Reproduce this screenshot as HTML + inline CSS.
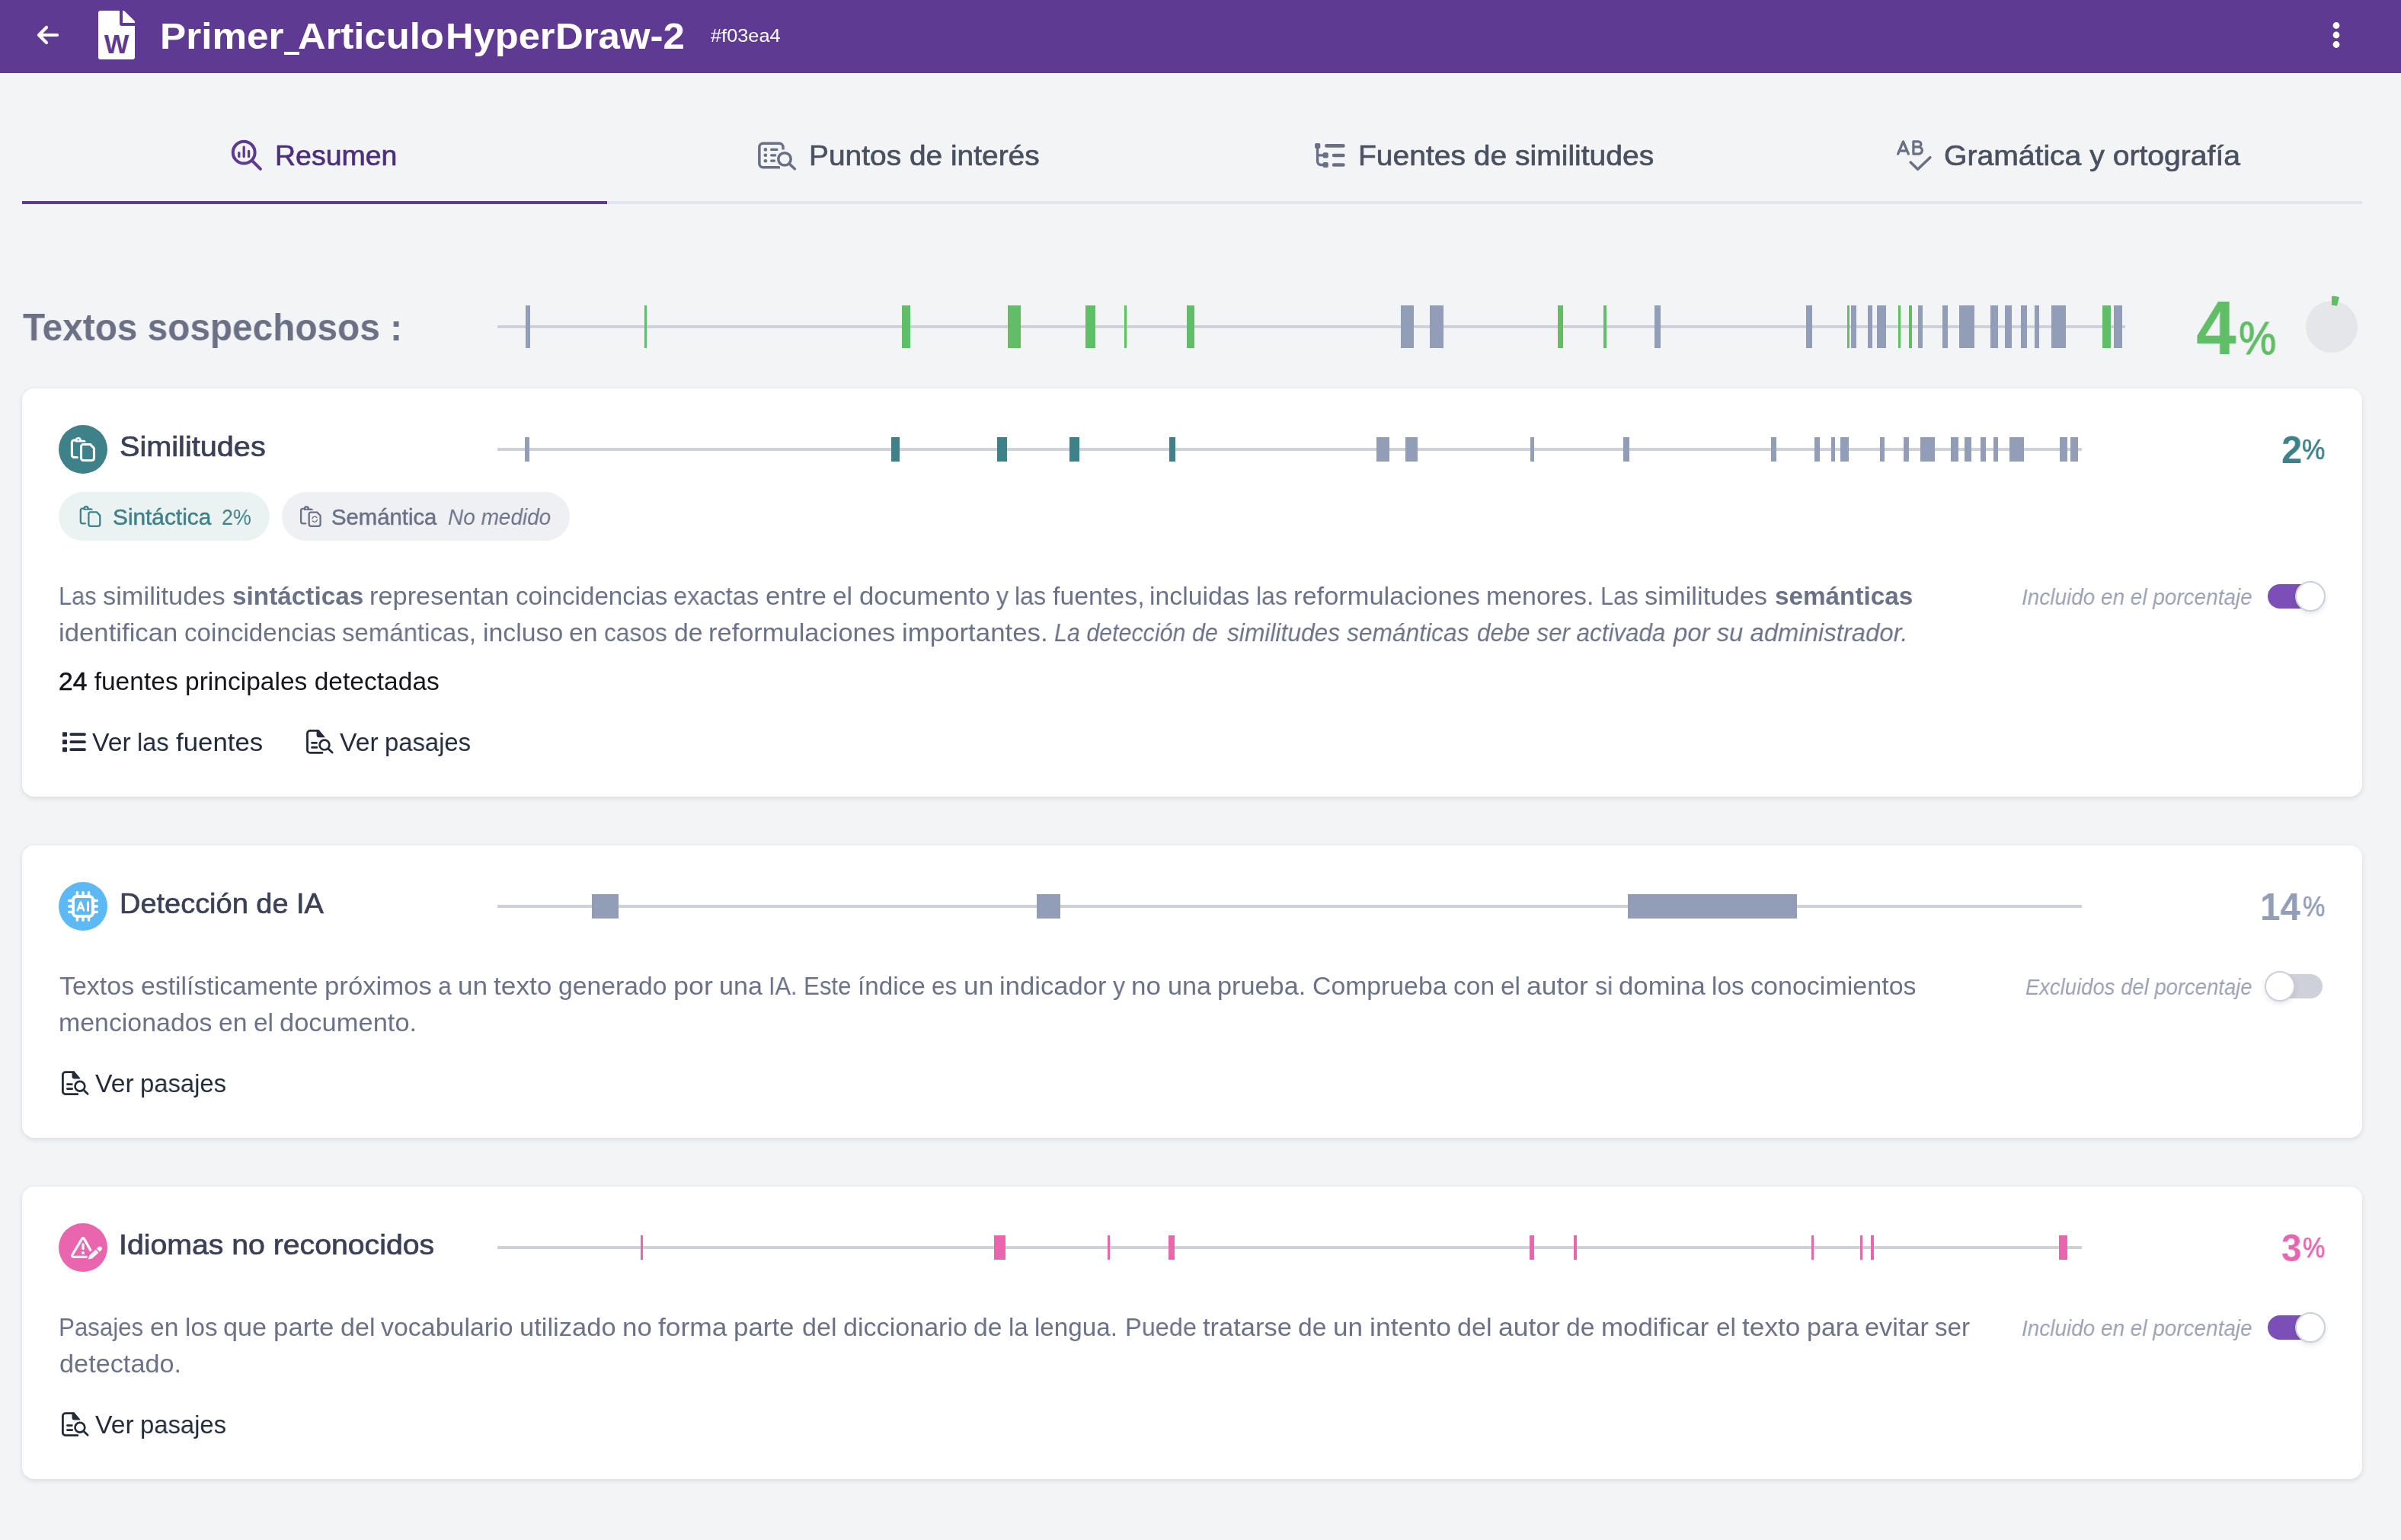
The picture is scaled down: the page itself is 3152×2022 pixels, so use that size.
<!DOCTYPE html><html lang="es"><head><meta charset="utf-8"><title>Primer_ArticuloHyperDraw-2</title><style>
*{margin:0;padding:0;box-sizing:border-box}
html,body{width:3152px;height:2022px;overflow:hidden}
body{background:#f3f4f6;font-family:"Liberation Sans",sans-serif;position:relative}
.hdr{position:absolute;left:0;top:0;width:3152px;height:96px;background:#5e3a92}
.card{position:absolute;left:29px;width:3072px;background:#fff;border-radius:16px;box-shadow:0 2px 6px rgba(30,35,60,.13)}
.pill{position:absolute;height:64px;border-radius:32px;top:646px}
.tg{position:absolute;width:72px;height:32px;border-radius:16px}
.kn{position:absolute;width:40px;height:40px;border-radius:20px;background:#fff;border:2px solid #ccd0da;box-shadow:0 3px 6px rgba(40,45,70,.11)}
svg.ov{position:absolute;left:0;top:0}
.t{position:absolute;white-space:nowrap;line-height:1;transform-origin:0 0;will-change:transform}
.t.b{font-weight:700}
.t.sb,.t .sb{-webkit-text-stroke:0.018em currentColor}
.t.i{font-style:italic}
.t b{font-weight:700}
.t i{font-style:italic}
</style></head><body>
<div class="hdr"></div>
<div class="card" style="top:510px;height:536px"></div>
<div class="card" style="top:1110px;height:384px"></div>
<div class="card" style="top:1558px;height:384px"></div>
<div class="pill" style="left:77px;width:277px;background:#ebf3f2"></div>
<div class="pill" style="left:370px;width:378px;background:#eff0f3"></div>
<div class="tg" style="left:2977px;top:767px;background:#7b4fb7"></div><div class="kn" style="left:3013px;top:763px"></div>
<div class="tg" style="left:2977px;top:1279px;background:#ced1da"></div><div class="kn" style="left:2973px;top:1275px"></div>
<div class="tg" style="left:2977px;top:1727px;background:#7b4fb7"></div><div class="kn" style="left:3013px;top:1723px"></div>
<svg class="ov" width="3152" height="2022" viewBox="0 0 3152 2022"><g shape-rendering="crispEdges"><rect x="372.75" y="68" width="20.5" height="4" fill="#fff"/><rect x="29" y="264" width="3072" height="4" fill="#e4e5ea"/><rect x="29" y="264" width="768" height="4" fill="#5e3a92"/><rect x="653" y="427" width="2137" height="4" fill="#ced1d9"/><rect x="690" y="401" width="6" height="56" fill="#929eb7"/><rect x="846" y="401" width="3" height="56" fill="#60be67"/><rect x="1184" y="401" width="11" height="56" fill="#60be67"/><rect x="1323" y="401" width="17" height="56" fill="#60be67"/><rect x="1425" y="401" width="13" height="56" fill="#60be67"/><rect x="1476" y="401" width="3" height="56" fill="#60be67"/><rect x="1558" y="401" width="10" height="56" fill="#60be67"/><rect x="1839" y="401" width="17" height="56" fill="#929eb7"/><rect x="1877" y="401" width="18" height="56" fill="#929eb7"/><rect x="2045" y="401" width="7" height="56" fill="#60be67"/><rect x="2105" y="401" width="4" height="56" fill="#60be67"/><rect x="2172" y="401" width="8" height="56" fill="#929eb7"/><rect x="2371" y="401" width="8" height="56" fill="#929eb7"/><rect x="2425" y="401" width="3" height="56" fill="#60be67"/><rect x="2430" y="401" width="7" height="56" fill="#929eb7"/><rect x="2452" y="401" width="6" height="56" fill="#929eb7"/><rect x="2464" y="401" width="12" height="56" fill="#929eb7"/><rect x="2492" y="401" width="3" height="56" fill="#60be67"/><rect x="2506" y="401" width="4" height="56" fill="#60be67"/><rect x="2518" y="401" width="6" height="56" fill="#929eb7"/><rect x="2550" y="401" width="7" height="56" fill="#929eb7"/><rect x="2572" y="401" width="20" height="56" fill="#929eb7"/><rect x="2613" y="401" width="10" height="56" fill="#929eb7"/><rect x="2632" y="401" width="9" height="56" fill="#929eb7"/><rect x="2653" y="401" width="8" height="56" fill="#929eb7"/><rect x="2671" y="401" width="6" height="56" fill="#929eb7"/><rect x="2693" y="401" width="19" height="56" fill="#929eb7"/><rect x="2760" y="401" width="11" height="56" fill="#60be67"/><rect x="2775" y="401" width="11" height="56" fill="#929eb7"/><rect x="653" y="588" width="2080" height="4" fill="#ced1d9"/><rect x="689" y="574" width="6" height="32" fill="#929eb7"/><rect x="1170" y="574" width="11" height="32" fill="#3f8189"/><rect x="1309" y="574" width="13" height="32" fill="#3f8189"/><rect x="1404" y="574" width="13" height="32" fill="#3f8189"/><rect x="1535" y="574" width="8" height="32" fill="#3f8189"/><rect x="1807" y="574" width="17" height="32" fill="#929eb7"/><rect x="1845" y="574" width="16" height="32" fill="#929eb7"/><rect x="2009" y="574" width="5" height="32" fill="#929eb7"/><rect x="2131" y="574" width="8" height="32" fill="#929eb7"/><rect x="2325" y="574" width="7" height="32" fill="#929eb7"/><rect x="2382" y="574" width="7" height="32" fill="#929eb7"/><rect x="2404" y="574" width="5" height="32" fill="#929eb7"/><rect x="2416" y="574" width="11" height="32" fill="#929eb7"/><rect x="2468" y="574" width="6" height="32" fill="#929eb7"/><rect x="2499" y="574" width="7" height="32" fill="#929eb7"/><rect x="2521" y="574" width="19" height="32" fill="#929eb7"/><rect x="2561" y="574" width="10" height="32" fill="#929eb7"/><rect x="2579" y="574" width="9" height="32" fill="#929eb7"/><rect x="2600" y="574" width="7" height="32" fill="#929eb7"/><rect x="2617" y="574" width="6" height="32" fill="#929eb7"/><rect x="2638" y="574" width="19" height="32" fill="#929eb7"/><rect x="2704" y="574" width="10" height="32" fill="#929eb7"/><rect x="2718" y="574" width="10" height="32" fill="#929eb7"/><rect x="653" y="1188" width="2080" height="4" fill="#ced1d9"/><rect x="777" y="1174" width="35" height="32" fill="#929eb7"/><rect x="1361" y="1174" width="31" height="32" fill="#929eb7"/><rect x="2137" y="1174" width="222" height="32" fill="#929eb7"/><rect x="653" y="1636" width="2080" height="4" fill="#ced1d9"/><rect x="841" y="1622" width="3" height="32" fill="#e965ad"/><rect x="1305" y="1622" width="15" height="32" fill="#e965ad"/><rect x="1454" y="1622" width="3" height="32" fill="#e965ad"/><rect x="1534" y="1622" width="8" height="32" fill="#e965ad"/><rect x="2008" y="1622" width="6" height="32" fill="#e965ad"/><rect x="2066" y="1622" width="4" height="32" fill="#e965ad"/><rect x="2378" y="1622" width="3" height="32" fill="#e965ad"/><rect x="2442" y="1622" width="3" height="32" fill="#e965ad"/><rect x="2456" y="1622" width="4" height="32" fill="#e965ad"/><rect x="2703" y="1622" width="11" height="32" fill="#e965ad"/></g><defs>
<g id="paste" fill="none" stroke-linecap="round" stroke-linejoin="round">
<path d="M101.4 600.5H97.4a3 3 0 0 1-3-3V581a3 3 0 0 1 3-3h2"/>
<path d="M98.7 580.6v-2.3a4.1 4.1 0 0 1 8.2-.6h2.9a3 3 0 0 1 2.9 2.9z" fill="currentColor" stroke="none"/>
<path d="M109.5 583.5h9.1l4.9 5.1v12.9a3 3 0 0 1-3 3h-11a3 3 0 0 1-3-3v-15a3 3 0 0 1 3-3z"/>
</g>
<g id="docsearch" fill="none" stroke="#222b3b" stroke-width="2.8" stroke-linecap="round" stroke-linejoin="round">
<path d="M417.5 959.4H407a3.5 3.5 0 0 0-3.5 3.5v22a3.5 3.5 0 0 0 3.5 3.5h16"/>
<path d="M416.2 959.2v5.8a2.6 2.6 0 0 0 2.6 2.6h7l-7.4-8.6z" fill="#222b3b" stroke-width="1.2"/>
<path d="M409.5 975.4h6M409.5 981.4h6.4" stroke-width="2.7"/>
<circle cx="426" cy="978.1" r="6.4" stroke-width="2.7"/>
<path d="M430.8 982.9l5.4 5.2"/>
</g>
</defs>
<!-- back arrow -->
<path d="M75 46H51M61 36L51 46l10 10" fill="none" stroke="#fff" stroke-width="4.2" stroke-linecap="round" stroke-linejoin="round"/>
<!-- file word icon -->
<g transform="translate(129 14)">
<path d="M28 17V0H3a3 3 0 0 0-3 3v58a3 3 0 0 0 3 3h42a3 3 0 0 0 3-3V20H31a3 3 0 0 1-3-3z" fill="#fff"/>
<path d="M48 15.2v.8H32V0h.8c.8 0 1.6.3 2.1.9l12.2 12.2c.6.6.9 1.3.9 2.1z" fill="#fff"/>
<text x="24" y="55.8" text-anchor="middle" font-family="Liberation Sans, sans-serif" font-weight="700" font-size="34.5" fill="#5e3a92">W</text>
</g>
<!-- kebab -->
<g fill="#fff"><circle cx="3067" cy="33.5" r="4.4"/><circle cx="3067" cy="46" r="4.4"/><circle cx="3067" cy="58.5" r="4.4"/></g>
<!-- tab1 icon -->
<g fill="none" stroke="#5d3b93" stroke-linecap="round">
<circle cx="320.2" cy="200.2" r="14.4" stroke-width="4"/>
<path d="M331 211l10.9 10.9" stroke-width="4"/>
<path d="M313.8 200.7v4.9M320.2 193.2v12.4M326.6 198.4v7.2" stroke-width="3.3"/>
</g>
<!-- tab2 icon -->
<g fill="none" stroke="#6a7083" stroke-linecap="round" stroke-linejoin="round">
<path d="M1028 196.4V193.2a5 5 0 0 0-5-5H1001.85a5 5 0 0 0-5 5v21.65a5 5 0 0 0 5 5H1024" stroke-width="3.5" stroke-linecap="butt"/>
<path d="M1012.7 196.4h7.3M1012.7 203.8h5M1012.7 211.2h3.8" stroke-width="3.3"/>
<circle cx="1004.9" cy="196.4" r="2.3" fill="#6a7083" stroke="none"/><circle cx="1004.9" cy="203.8" r="2.3" fill="#6a7083" stroke="none"/><circle cx="1004.9" cy="211.2" r="2.3" fill="#6a7083" stroke="none"/>
<circle cx="1030" cy="208.9" r="11.6" fill="#f3f4f6" stroke="none"/>
<circle cx="1030" cy="208.9" r="8.2" stroke-width="3.5"/>
<path d="M1036.2 215l7.1 6.7" stroke-width="3.6"/>
</g>
<!-- tab3 icon -->
<g fill="#6a7083" stroke="none">
<rect x="1726.1" y="187.9" width="7.2" height="7.2" rx="1.8"/><rect x="1736.6" y="200.3" width="7.2" height="7.2" rx="1.8"/><rect x="1736.6" y="212.9" width="7.2" height="7.2" rx="1.8"/>
</g>
<g fill="none" stroke="#6a7083" stroke-linecap="round">
<path d="M1729.6 193v19a4.5 4.5 0 0 0 4.5 4.5h4M1729.6 203.9h8" stroke-width="3.4"/>
<path d="M1741.4 191.4h22M1751.1 204h12.3M1751.1 216.5h12.3" stroke-width="4.6"/>
</g>
<!-- tab4 icon -->
<g fill="none" stroke="#6a7083" stroke-linecap="round" stroke-linejoin="round">
<path d="M2491.6 202.1l6.9-16.2 6.9 16.2M2493.6 198.2h9.8" stroke-width="3.3"/>
<path d="M2511.9 185.9h6.5a3.5 3.5 0 0 1 0 7h-6.5M2518.7 192.9a4.6 4.6 0 0 1 0 9.2h-6.8V185.9" stroke-width="3.3"/>
<path d="M2508.1 213.1l9.5 9.2 16.3-15.6" stroke-width="3.5"/>
</g>
<!-- pie -->
<circle cx="3061" cy="429" r="34" fill="#e5e6ea"/>
<path d="M3061 388.8A40.2 40.2 0 0 1 3071 390.06L3068.01 401.69A28.2 28.2 0 0 0 3061 400.8z" fill="#60be67"/>
<!-- card circles -->
<circle cx="109" cy="590" r="32" fill="#3f8189"/>
<circle cx="109" cy="1190" r="32" fill="#5cb9f6"/>
<circle cx="109" cy="1638" r="32" fill="#e965ad"/>
<!-- similitudes icon -->
<use href="#paste" stroke="#fff" color="#fff" stroke-width="3.1"/>
<circle cx="102.8" cy="577.5" r="1.1" fill="#3f8189"/>
<!-- pill icons -->
<g transform="translate(104.5 664) scale(.875) translate(-92.9 -573.9)"><use href="#paste" stroke="#3f8189" color="#3f8189" stroke-width="2.6"/><circle cx="102.8" cy="577.5" r="1.1" fill="#ebf3f2"/></g>
<g transform="translate(393.8 664.2) scale(.875) translate(-92.9 -573.9)"><use href="#paste" stroke="#6b7287" color="#6b7287" stroke-width="2.6"/><circle cx="102.8" cy="577.5" r="1.1" fill="#eff0f3"/>
<path d="M111.3 593.2a3.9 3.9 0 0 1 7-1.6M118.7 594.8a3.9 3.9 0 0 1-7 1.6" fill="none" stroke="#6b7287" stroke-width="1.5" stroke-linecap="round"/></g>
<!-- AI icon -->
<g fill="none" stroke="#fff" stroke-linecap="round" stroke-linejoin="round">
<rect x="96" y="1177" width="26" height="26" rx="4.5" stroke-width="4"/>
<path d="M101.4 1171.7v3M109 1171.7v3M116.5 1171.7v3M101.4 1205.3v3M109 1205.3v3M116.5 1205.3v3M90.7 1182.5h3M90.7 1190h3M90.7 1197.5h3M124.3 1182.5h3M124.3 1190h3M124.3 1197.5h3" stroke-width="3.5"/>
<path d="M101.7 1195.2l4.2-10.7 4.2 10.7M103.2 1192.2h5.4" stroke-width="2.6"/>
<path d="M115.5 1184.8v10.4" stroke-width="3"/>
</g>
<!-- idiomas icon -->
<g fill="none" stroke="#fff" stroke-linecap="round" stroke-linejoin="round">
<path d="M113.7 1650.4H97.2Q93.4 1650.4 95.3 1647L107.5 1626.6Q109 1624.2 110.5 1626.6L118.8 1641.4" stroke-width="3.2"/>
<path d="M109 1634v5.4" stroke-width="3.3"/>
<circle cx="109" cy="1645" r="2.1" fill="#fff" stroke="none"/>
<path d="M115.7 1653.6L117.47 1648.14L129.14 1637.35A2.8 2.8 0 0 1 132.94 1641.47L121.27 1652.26Z" fill="#e965ad" stroke="#e965ad" stroke-width="4"/>
<path d="M115.7 1653.6L117.47 1648.14L129.14 1637.35A2.8 2.8 0 0 1 132.94 1641.47L121.27 1652.26Z" fill="#fff" stroke="none"/>
<path d="M126 1639.7L130.35 1644.4" stroke="#e965ad" stroke-width="1.7" stroke-linecap="butt"/>
</g>
<!-- list icon -->
<g fill="#222b3b"><rect x="82" y="961.2" width="6" height="6" rx="1.2"/><rect x="82" y="971.2" width="6" height="6" rx="1.2"/><rect x="82" y="981.2" width="6" height="6" rx="1.2"/></g>
<path d="M93.3 964.2h17.7M93.3 974.2h17.7M93.3 984.2h17.7" fill="none" stroke="#222b3b" stroke-width="3.8" stroke-linecap="round"/>
<!-- docsearch icons -->
<use href="#docsearch"/>
<use href="#docsearch" transform="translate(-321.1 448.2)"/>
<use href="#docsearch" transform="translate(-321.1 896.2)"/>
</svg>
<div class="t b" style="left:209.86px;top:23.00px;font-size:49px;color:#fff;transform:scaleX(1.0461)">Primer</div>
<div class="t b" style="left:373.46px;top:23.00px;font-size:49px;color:transparent;transform:scaleX(0.7069)">_</div>
<div class="t b" style="left:391.21px;top:23.00px;font-size:49px;color:#fff;transform:scaleX(1.0363)">Articulo</div>
<div class="t b" style="left:584.65px;top:23.00px;font-size:49px;color:#fff;transform:scaleX(1.0333)">Hyper</div>
<div class="t b" style="left:729.13px;top:23.00px;font-size:49px;color:#fff;transform:scaleX(1.0393)">Draw-2</div>
<div class="t r" style="left:932.80px;top:35.00px;font-size:24.5px;color:#fff;transform:scaleX(1.0341)">#f03ea4</div>
<div class="t sb" style="left:360.79px;top:186.00px;font-size:37.3px;color:#4c2e80;transform:scaleX(1.0051)">Resumen</div>
<div class="t sb" style="left:1062.41px;top:186.00px;font-size:37.3px;color:#495060;transform:scaleX(1.0427)">Puntos de interés</div>
<div class="t sb" style="left:1782.91px;top:186.00px;font-size:37.3px;color:#495060;transform:scaleX(1.0461)">Fuentes de similitudes</div>
<div class="t sb" style="left:2551.95px;top:186.00px;font-size:37.3px;color:#495060;transform:scaleX(1.0485)">Gramática y ortografía</div>
<div class="t b" style="left:30.00px;top:405.00px;font-size:49.4px;color:#6b7086;transform:scaleX(0.9667)">Textos sospechosos :</div>
<div class="t b" style="left:2883.05px;top:381.00px;font-size:99.5px;color:#60be67;transform:scaleX(0.9537)">4</div>
<div class="t sb" style="left:2938.71px;top:413.00px;font-size:62px;color:#60be67;transform:scaleX(0.8943)">%</div>
<div class="t sb" style="left:156.94px;top:568.00px;font-size:37.3px;color:#3a4055;transform:scaleX(1.0631)">Similitudes</div>
<div class="t sb" style="left:147.77px;top:665.00px;font-size:29px;color:#3f8189;transform:scaleX(1.0280)">Sintáctica</div>
<div class="t r" style="left:291.48px;top:665.00px;font-size:29px;color:#3f8189;transform:scaleX(0.9225)">2%</div>
<div class="t sb" style="left:434.79px;top:665.00px;font-size:29px;color:#6b7287;transform:scaleX(1.0102)">Semántica</div>
<div class="t i" style="left:588.24px;top:665.00px;font-size:29px;color:#6b7287;transform:scaleX(0.9647)">No medido</div>
<div class="t b" style="left:2995.02px;top:566.00px;font-size:50px;color:#3f8189;transform:scaleX(0.9800)">2</div>
<div class="t sb" style="left:3022.08px;top:572.00px;font-size:37.3px;color:#3f8189;transform:scaleX(0.9156)">%</div>
<div class="t r" style="left:77.00px;top:766.00px;font-size:33.2px;color:#6b7287;transform:scaleX(0.9256)">Las</div>
<div class="t r" style="left:134.83px;top:766.00px;font-size:33.2px;color:#6b7287;transform:scaleX(1.0375)">similitudes</div>
<div class="t b" style="left:304.70px;top:766.00px;font-size:33.2px;color:#6b7287;transform:scaleX(1.0047)">sintácticas</div>
<div class="t r" style="left:484.90px;top:766.00px;font-size:33.2px;color:#6b7287;transform:scaleX(1.0354)">representan</div>
<div class="t r" style="left:676.62px;top:766.00px;font-size:33.2px;color:#6b7287;transform:scaleX(1.0007)">coincidencias</div>
<div class="t r" style="left:884.34px;top:766.00px;font-size:33.2px;color:#6b7287;transform:scaleX(0.9811)">exactas</div>
<div class="t r" style="left:1004.87px;top:766.00px;font-size:33.2px;color:#6b7287;transform:scaleX(1.0571)">entre</div>
<div class="t r" style="left:1093.16px;top:766.00px;font-size:33.2px;color:#6b7287;transform:scaleX(1.0088)">el</div>
<div class="t r" style="left:1127.55px;top:766.00px;font-size:33.2px;color:#6b7287;transform:scaleX(1.0471)">documento</div>
<div class="t r" style="left:1307.83px;top:766.00px;font-size:33.2px;color:#6b7287;transform:scaleX(0.9689)">y</div>
<div class="t r" style="left:1332.22px;top:766.00px;font-size:33.2px;color:#6b7287;transform:scaleX(0.9707)">las</div>
<div class="t r" style="left:1381.74px;top:766.00px;font-size:33.2px;color:#6b7287;transform:scaleX(1.0208)">fuentes,</div>
<div class="t r" style="left:1509.00px;top:766.00px;font-size:33.2px;color:#6b7287;transform:scaleX(1.0174)">incluidas</div>
<div class="t r" style="left:1648.69px;top:766.00px;font-size:33.2px;color:#6b7287;transform:scaleX(0.9692)">las</div>
<div class="t r" style="left:1698.13px;top:766.00px;font-size:33.2px;color:#6b7287;transform:scaleX(1.0372)">reformulaciones</div>
<div class="t r" style="left:1951.34px;top:766.00px;font-size:33.2px;color:#6b7287;transform:scaleX(1.0220)">menores.</div>
<div class="t r" style="left:2101.03px;top:766.00px;font-size:33.2px;color:#6b7287;transform:scaleX(0.9276)">Las</div>
<div class="t r" style="left:2158.98px;top:766.00px;font-size:33.2px;color:#6b7287;transform:scaleX(1.0397)">similitudes</div>
<div class="t b" style="left:2329.50px;top:766.00px;font-size:33.2px;color:#6b7287;transform:scaleX(1.0028)">semánticas</div>
<div class="t r" style="left:77.20px;top:814.00px;font-size:33.2px;color:#6b7287;transform:scaleX(1.0461)">identifican</div>
<div class="t r" style="left:241.86px;top:814.00px;font-size:33.2px;color:#6b7287;transform:scaleX(1.0001)">coincidencias</div>
<div class="t r" style="left:449.44px;top:814.00px;font-size:33.2px;color:#6b7287;transform:scaleX(0.9939)">semánticas,</div>
<div class="t r" style="left:633.76px;top:814.00px;font-size:33.2px;color:#6b7287;transform:scaleX(1.0195)">incluso</div>
<div class="t r" style="left:747.40px;top:814.00px;font-size:33.2px;color:#6b7287;transform:scaleX(1.0185)">en</div>
<div class="t r" style="left:793.32px;top:814.00px;font-size:33.2px;color:#6b7287;transform:scaleX(0.9563)">casos</div>
<div class="t r" style="left:884.55px;top:814.00px;font-size:33.2px;color:#6b7287;transform:scaleX(1.0176)">de</div>
<div class="t r" style="left:930.44px;top:814.00px;font-size:33.2px;color:#6b7287;transform:scaleX(1.0382)">reformulaciones</div>
<div class="t r" style="left:1183.88px;top:814.00px;font-size:33.2px;color:#6b7287;transform:scaleX(1.0496)">importantes.</div>
<div class="t i" style="left:1384.08px;top:814.00px;font-size:33.2px;color:#6b7287;transform:scaleX(0.9163)">La detección de</div>
<div class="t i" style="left:1610.50px;top:814.00px;font-size:33.2px;color:#6b7287;transform:scaleX(0.9563)">similitudes semánticas</div>
<div class="t i" style="left:1938.56px;top:814.00px;font-size:33.2px;color:#6b7287;transform:scaleX(0.9442)">debe ser activada</div>
<div class="t i" style="left:2197.24px;top:814.00px;font-size:33.2px;color:#6b7287;transform:scaleX(0.9904)">por su administrador.</div>
<div class="t r" style="left:76.99px;top:878.00px;font-size:33.2px;color:#14161c;transform:scaleX(1.0108)"><span class="sb">24</span> fuentes principales detectadas</div>
<div class="t r" style="left:121.25px;top:958.00px;font-size:33.2px;color:#222b3b;transform:scaleX(1.0196)">Ver</div>
<div class="t r" style="left:180.49px;top:958.00px;font-size:33.2px;color:#222b3b;transform:scaleX(0.9841)">las</div>
<div class="t r" style="left:230.69px;top:958.00px;font-size:33.2px;color:#222b3b;transform:scaleX(1.0494)">fuentes</div>
<div class="t r" style="left:446.30px;top:958.00px;font-size:33.2px;color:#222b3b;transform:scaleX(1.0164)">Ver</div>
<div class="t r" style="left:505.35px;top:958.00px;font-size:33.2px;color:#222b3b;transform:scaleX(0.9886)">pasajes</div>
<div class="t i" style="left:2653.84px;top:770.00px;font-size:29px;color:#9ba1b2;transform:scaleX(0.9629)">Incluido en el porcentaje</div>
<div class="t sb" style="left:156.96px;top:1168.00px;font-size:37.3px;color:#3a4055;transform:scaleX(1.0176)">Detección de IA</div>
<div class="t b" style="left:2967.24px;top:1166.00px;font-size:50px;color:#929eb7;transform:scaleX(0.9528)">14</div>
<div class="t sb" style="left:3022.82px;top:1172.00px;font-size:37.3px;color:#929eb7;transform:scaleX(0.8844)">%</div>
<div class="t r" style="left:78.20px;top:1278.00px;font-size:33.2px;color:#6b7287;transform:scaleX(1.0229)">Textos</div>
<div class="t r" style="left:184.61px;top:1278.00px;font-size:33.2px;color:#6b7287;transform:scaleX(1.0171)">estilísticamente</div>
<div class="t r" style="left:425.53px;top:1278.00px;font-size:33.2px;color:#6b7287;transform:scaleX(1.0467)">próximos</div>
<div class="t r" style="left:574.76px;top:1278.00px;font-size:33.2px;color:#6b7287;transform:scaleX(0.9617)">a</div>
<div class="t r" style="left:600.81px;top:1278.00px;font-size:33.2px;color:#6b7287;transform:scaleX(1.0618)">un</div>
<div class="t r" style="left:648.31px;top:1278.00px;font-size:33.2px;color:#6b7287;transform:scaleX(1.0630)">texto</div>
<div class="t r" style="left:733.09px;top:1278.00px;font-size:33.2px;color:#6b7287;transform:scaleX(1.0165)">generado</div>
<div class="t r" style="left:883.97px;top:1278.00px;font-size:33.2px;color:#6b7287;transform:scaleX(1.0818)">por</div>
<div class="t r" style="left:944.16px;top:1278.00px;font-size:33.2px;color:#6b7287;transform:scaleX(1.0287)">una</div>
<div class="t r" style="left:1009.42px;top:1278.00px;font-size:33.2px;color:#6b7287;transform:scaleX(0.9269)">IA.</div>
<div class="t r" style="left:1055.30px;top:1278.00px;font-size:33.2px;color:#6b7287;transform:scaleX(0.9389)">Este</div>
<div class="t r" style="left:1125.98px;top:1278.00px;font-size:33.2px;color:#6b7287;transform:scaleX(1.0015)">índice</div>
<div class="t r" style="left:1223.00px;top:1278.00px;font-size:33.2px;color:#6b7287;transform:scaleX(0.9482)">es</div>
<div class="t r" style="left:1264.56px;top:1278.00px;font-size:33.2px;color:#6b7287;transform:scaleX(1.0647)">un</div>
<div class="t r" style="left:1312.19px;top:1278.00px;font-size:33.2px;color:#6b7287;transform:scaleX(1.0438)">indicador</div>
<div class="t r" style="left:1461.09px;top:1278.00px;font-size:33.2px;color:#6b7287;transform:scaleX(0.9688)">y</div>
<div class="t r" style="left:1485.49px;top:1278.00px;font-size:33.2px;color:#6b7287;transform:scaleX(1.0563)">no</div>
<div class="t r" style="left:1532.81px;top:1278.00px;font-size:33.2px;color:#6b7287;transform:scaleX(1.0316)">una</div>
<div class="t r" style="left:1598.25px;top:1278.00px;font-size:33.2px;color:#6b7287;transform:scaleX(1.0330)">prueba.</div>
<div class="t r" style="left:1723.00px;top:1278.00px;font-size:33.2px;color:#6b7287;transform:scaleX(1.0176)">Comprueba</div>
<div class="t r" style="left:1907.76px;top:1278.00px;font-size:33.2px;color:#6b7287;transform:scaleX(1.0101)">con</div>
<div class="t r" style="left:1970.10px;top:1278.00px;font-size:33.2px;color:#6b7287;transform:scaleX(1.0051)">el</div>
<div class="t r" style="left:2004.36px;top:1278.00px;font-size:33.2px;color:#6b7287;transform:scaleX(1.0693)">autor</div>
<div class="t r" style="left:2093.56px;top:1278.00px;font-size:33.2px;color:#6b7287;transform:scaleX(0.9719)">si</div>
<div class="t r" style="left:2125.14px;top:1278.00px;font-size:33.2px;color:#6b7287;transform:scaleX(1.0465)">domina</div>
<div class="t r" style="left:2247.35px;top:1278.00px;font-size:33.2px;color:#6b7287;transform:scaleX(1.0031)">los</div>
<div class="t r" style="left:2298.21px;top:1278.00px;font-size:33.2px;color:#6b7287;transform:scaleX(1.0257)">conocimientos</div>
<div class="t r" style="left:77.00px;top:1326.00px;font-size:33.2px;color:#6b7287;transform:scaleX(1.0208)">mencionados</div>
<div class="t r" style="left:286.84px;top:1326.00px;font-size:33.2px;color:#6b7287;transform:scaleX(1.0176)">en</div>
<div class="t r" style="left:332.71px;top:1326.00px;font-size:33.2px;color:#6b7287;transform:scaleX(1.0072)">el</div>
<div class="t r" style="left:367.05px;top:1326.00px;font-size:33.2px;color:#6b7287;transform:scaleX(1.0390)">documento.</div>
<div class="t i" style="left:2659.05px;top:1282.00px;font-size:29px;color:#9ba1b2;transform:scaleX(0.9466)">Excluidos del porcentaje</div>
<div class="t r" style="left:125.20px;top:1406.00px;font-size:33.2px;color:#222b3b;transform:scaleX(1.0164)">Ver</div>
<div class="t r" style="left:184.25px;top:1406.00px;font-size:33.2px;color:#222b3b;transform:scaleX(0.9886)">pasajes</div>
<div class="t sb" style="left:155.85px;top:1616.00px;font-size:37.3px;color:#3a4055;transform:scaleX(1.0513)">Idiomas no reconocidos</div>
<div class="t b" style="left:2995.25px;top:1614.00px;font-size:50px;color:#e965ad;transform:scaleX(0.9520)">3</div>
<div class="t sb" style="left:3022.82px;top:1620.00px;font-size:37.3px;color:#e965ad;transform:scaleX(0.8844)">%</div>
<div class="t r" style="left:77.30px;top:1726.00px;font-size:33.2px;color:#6b7287;transform:scaleX(0.9412)">Pasajes</div>
<div class="t r" style="left:196.72px;top:1726.00px;font-size:33.2px;color:#6b7287;transform:scaleX(1.0154)">en</div>
<div class="t r" style="left:242.51px;top:1726.00px;font-size:33.2px;color:#6b7287;transform:scaleX(1.0032)">los</div>
<div class="t r" style="left:293.37px;top:1726.00px;font-size:33.2px;color:#6b7287;transform:scaleX(1.0302)">que</div>
<div class="t r" style="left:358.70px;top:1726.00px;font-size:33.2px;color:#6b7287;transform:scaleX(1.0508)">parte</div>
<div class="t r" style="left:446.50px;top:1726.00px;font-size:33.2px;color:#6b7287;transform:scaleX(1.0279)">del</div>
<div class="t r" style="left:500.32px;top:1726.00px;font-size:33.2px;color:#6b7287;transform:scaleX(1.0224)">vocabulario</div>
<div class="t r" style="left:682.15px;top:1726.00px;font-size:33.2px;color:#6b7287;transform:scaleX(1.0395)">utilizado</div>
<div class="t r" style="left:817.02px;top:1726.00px;font-size:33.2px;color:#6b7287;transform:scaleX(1.0526)">no</div>
<div class="t r" style="left:864.17px;top:1726.00px;font-size:33.2px;color:#6b7287;transform:scaleX(1.0673)">forma</div>
<div class="t r" style="left:963.01px;top:1726.00px;font-size:33.2px;color:#6b7287;transform:scaleX(1.0508)">parte</div>
<div class="t r" style="left:1053.00px;top:1726.00px;font-size:33.2px;color:#6b7287;transform:scaleX(1.0275)">del</div>
<div class="t r" style="left:1106.80px;top:1726.00px;font-size:33.2px;color:#6b7287;transform:scaleX(1.0274)">diccionario</div>
<div class="t r" style="left:1278.09px;top:1726.00px;font-size:33.2px;color:#6b7287;transform:scaleX(1.0142)">de</div>
<div class="t r" style="left:1323.83px;top:1726.00px;font-size:33.2px;color:#6b7287;transform:scaleX(0.9987)">la</div>
<div class="t r" style="left:1357.92px;top:1726.00px;font-size:33.2px;color:#6b7287;transform:scaleX(0.9995)">lengua.</div>
<div class="t r" style="left:1476.70px;top:1726.00px;font-size:33.2px;color:#6b7287;transform:scaleX(0.9793)">Puede</div>
<div class="t r" style="left:1578.95px;top:1726.00px;font-size:33.2px;color:#6b7287;transform:scaleX(1.0397)">tratarse</div>
<div class="t r" style="left:1704.21px;top:1726.00px;font-size:33.2px;color:#6b7287;transform:scaleX(1.0126)">de</div>
<div class="t r" style="left:1749.87px;top:1726.00px;font-size:33.2px;color:#6b7287;transform:scaleX(1.0589)">un</div>
<div class="t r" style="left:1797.50px;top:1726.00px;font-size:33.2px;color:#6b7287;transform:scaleX(1.0734)">intento</div>
<div class="t r" style="left:1912.76px;top:1726.00px;font-size:33.2px;color:#6b7287;transform:scaleX(1.0280)">del</div>
<div class="t r" style="left:1966.59px;top:1726.00px;font-size:33.2px;color:#6b7287;transform:scaleX(1.0695)">autor</div>
<div class="t r" style="left:2055.80px;top:1726.00px;font-size:33.2px;color:#6b7287;transform:scaleX(1.0147)">de</div>
<div class="t r" style="left:2101.55px;top:1726.00px;font-size:33.2px;color:#6b7287;transform:scaleX(1.0507)">modificar</div>
<div class="t r" style="left:2252.75px;top:1726.00px;font-size:33.2px;color:#6b7287;transform:scaleX(1.0054)">el</div>
<div class="t r" style="left:2287.02px;top:1726.00px;font-size:33.2px;color:#6b7287;transform:scaleX(1.0625)">texto</div>
<div class="t r" style="left:2371.77px;top:1726.00px;font-size:33.2px;color:#6b7287;transform:scaleX(1.0250)">para</div>
<div class="t r" style="left:2448.16px;top:1726.00px;font-size:33.2px;color:#6b7287;transform:scaleX(1.0354)">evitar</div>
<div class="t r" style="left:2540.48px;top:1726.00px;font-size:33.2px;color:#6b7287;transform:scaleX(1.0013)">ser</div>
<div class="t r" style="left:77.50px;top:1774.00px;font-size:33.2px;color:#6b7287;transform:scaleX(1.0329)">detectado.</div>
<div class="t i" style="left:2654.04px;top:1730.00px;font-size:29px;color:#9ba1b2;transform:scaleX(0.9626)">Incluido en el porcentaje</div>
<div class="t r" style="left:125.20px;top:1854.00px;font-size:33.2px;color:#222b3b;transform:scaleX(1.0164)">Ver</div>
<div class="t r" style="left:184.25px;top:1854.00px;font-size:33.2px;color:#222b3b;transform:scaleX(0.9886)">pasajes</div>
</body></html>
